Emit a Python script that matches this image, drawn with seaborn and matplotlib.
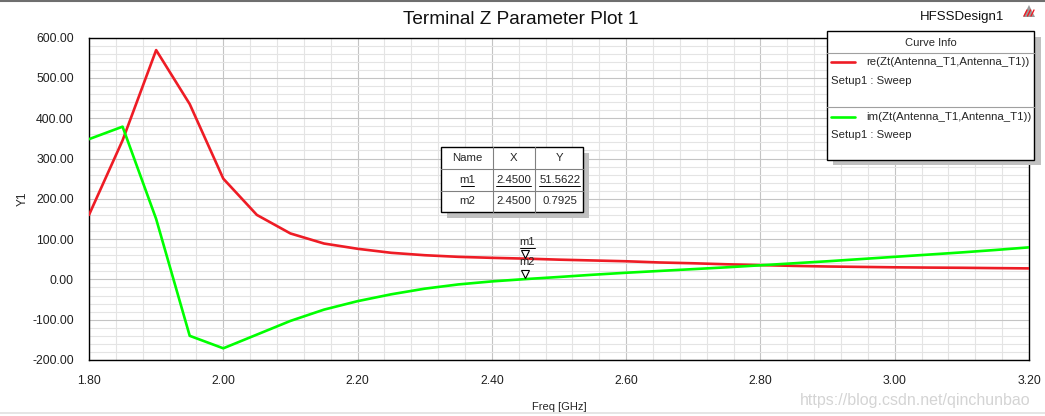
import numpy as np
import pandas as pd
import matplotlib
matplotlib.use('Agg')
import matplotlib.pyplot as plt
import matplotlib.transforms as mtransforms
from matplotlib.patches import Rectangle, Polygon
from matplotlib.ticker import MultipleLocator, FormatStrFormatter
import seaborn as sns

# 数据
freq = [1.80, 1.85, 1.90, 1.95, 2.00, 2.05, 2.10, 2.15, 2.20, 2.25,
        2.30, 2.35, 2.40, 2.45, 2.50, 2.55, 2.60, 2.65, 2.70, 2.75,
        2.80, 2.85, 2.90, 2.95, 3.00, 3.05, 3.10, 3.15, 3.20]
re_zt = [160, 345, 569, 435, 250, 160, 114, 89, 76, 66,
         60, 56, 53.5, 51.5622, 49, 47, 45, 42, 40, 37.5,
         35.5, 33.5, 32, 31, 30, 29.3, 28.8, 28, 27.3]
im_zt = [348, 379, 150, -140, -171, -137, -103, -75, -54, -37,
         -23, -12.5, -5, 0.7925, 6, 11.5, 16.5, 21, 25.5, 30,
         35, 40, 45, 50.5, 56, 61.5, 67, 73, 79.5]
curve_names = ['re(Zt(Antenna_T1,Antenna_T1))', 'im(Zt(Antenna_T1,Antenna_T1))']
curve_colors = ['#ee1c25', '#00ff00']
marker_names = ['m1', 'm2']
marker_x = [2.45, 2.45]
marker_y = [51.5622, 0.7925]
marker_y_text = ['51.5622', '0.7925']

df = pd.DataFrame({
    'freq': freq * 2,
    'val': re_zt + im_zt,
    'curve': [curve_names[0]] * len(freq) + [curve_names[1]] * len(freq),
})

sns.set_style('white')
plt.rcParams['font.family'] = ['Liberation Sans', 'DejaVu Sans']

W, H = 1045, 416
fig = plt.figure(figsize=(W / 100, H / 100), dpi=100)
ax = fig.add_axes([89 / W, 1 - 360 / H, 940 / W, 322.4 / H])

sns.lineplot(data=df, x='freq', y='val', hue='curve', palette=curve_colors,
             linewidth=1.9, legend=False, ax=ax, zorder=3)

ax.set_xlim(1.80, 3.20)
ax.set_ylim(-200, 600)
ax.xaxis.set_major_locator(MultipleLocator(0.2))
ax.xaxis.set_minor_locator(MultipleLocator(0.04))
ax.yaxis.set_major_locator(MultipleLocator(100))
ax.yaxis.set_minor_locator(MultipleLocator(20))
ax.xaxis.set_major_formatter(FormatStrFormatter('%.2f'))
ax.yaxis.set_major_formatter(FormatStrFormatter('%.2f'))
ax.grid(which='major', color='#c4c4c4', linewidth=0.8, zorder=1)
ax.grid(which='minor', color='#e4e4e4', linewidth=0.8, zorder=0)
ax.set_axisbelow(True)
ax.tick_params(which='major', direction='out', length=6.5, width=0.8,
               labelsize=8.8, pad=4.5, colors='black', labelcolor='#202020')
ax.tick_params(which='minor', direction='out', length=4, width=0.8)
ax.tick_params(axis='x', which='major', length=5.5, pad=5)
ax.tick_params(axis='x', which='minor', length=3.8)
for s in ax.spines.values():
    s.set_color('black')
    s.set_linewidth(1.0)
ax.set_xlabel('Freq [GHz]', fontsize=8)
ax.set_ylabel('Y1', fontsize=8.5)
ax.xaxis.set_label_coords(0.5, -0.13)
ax.yaxis.set_label_coords(-0.064, 0.5)

# 标记点
for name, mx, my in zip(marker_names, marker_x, marker_y):
    tri = mtransforms.offset_copy(ax.transData, fig=fig, x=0, y=5, units='dots')
    ax.plot([mx], [my], marker='v', markersize=6.2, markerfacecolor='white',
            markeredgecolor='black', markeredgewidth=0.8, linestyle='none',
            transform=tri, zorder=5)
    lab = mtransforms.offset_copy(ax.transData, fig=fig, x=2, y=17, units='dots')
    ax.text(mx, my, name, transform=lab, ha='center', va='center',
            fontsize=8, zorder=6)
    if name == 'm1':
        ul = mtransforms.offset_copy(ax.transData, fig=fig, x=2, y=11, units='dots')
        ax.plot([mx - 0.011, mx + 0.011], [my, my], color='black', lw=0.7,
                transform=ul, zorder=6)

# 覆盖层（像素坐标）
ov = fig.add_axes([0, 0, 1, 1], zorder=10)
ov.set_xlim(0, W)
ov.set_ylim(H, 0)
ov.axis('off')
ov.patch.set_alpha(0)

ov.plot([0, W], [0.8, 0.8], color='#6e6e6e', lw=1.5)
ov.plot([0, W], [413, 413], color='#e0e0e0', lw=1.2)
fig.text(521 / W, 1 - 19 / H, 'Terminal Z Parameter Plot 1', ha='center',
         va='center', fontsize=13.7, color='#111111')
fig.text(962 / W, 1 - 17 / H, 'HFSSDesign1', ha='center', va='center',
         fontsize=9.5, color='#111111')
ov.add_patch(Polygon([[1023, 17], [1029, 5], [1035, 17]], closed=True,
                     facecolor='#9a9a9a', edgecolor='none'))
for xo in [0, 3.5, 7]:
    ov.plot([1024 + xo, 1027 + xo], [16, 10], color='#ee1c25', lw=1.0)
fig.text(915 / W, 1 - 401 / H, 'https://blog.csdn.net/qinchunbao',
         ha='center', va='center', fontsize=11.5, color='#d4d4d4',
         family=['Liberation Sans Narrow', 'Liberation Sans'])

# Curve Info 图例框
ov.add_patch(Rectangle((833, 37), 208, 128, facecolor='#c0c0c0', edgecolor='none'))
ov.add_patch(Rectangle((827, 31), 207, 129, facecolor='white',
                       edgecolor='black', lw=1.0))
ov.text(931, 43, 'Curve Info', ha='center', va='center', fontsize=8)
ov.plot([827, 1034], [52.5, 52.5], color='#a0a0a0', lw=0.8)
ov.plot([827, 1034], [106.5, 106.5], color='#a0a0a0', lw=0.8)
for i, (nm, col) in enumerate(zip(curve_names, curve_colors)):
    yy = 62.3 + i * 54.5
    ov.plot([831, 855], [yy, yy], color=col, lw=1.9)
    ov.text(866, yy, nm, ha='left', va='center', fontsize=8.2)
    ov.text(831, yy + 18.5, 'Setup1 : Sweep', ha='left', va='center', fontsize=8.2)

# 标记表
tx0, tx1, tx2, tx3 = 441, 493, 534.5, 583
ty0, ty1, ty2, ty3 = 147, 169, 191, 212
ov.add_patch(Rectangle((tx0 + 6, ty0 + 6), tx3 - tx0, ty3 - ty0,
                       facecolor='#c0c0c0', edgecolor='none'))
ov.add_patch(Rectangle((tx0, ty0), tx3 - tx0, ty3 - ty0, facecolor='white',
                       edgecolor='black', lw=1.0))
for yy in [ty1, ty2]:
    ov.plot([tx0, tx3], [yy, yy], color='#808080', lw=0.8)
for xx in [tx1, tx2]:
    ov.plot([xx, xx], [ty0, ty3], color='#808080', lw=0.8)
cx = [(tx0 + tx1) / 2, (tx1 + tx2) / 2, (tx2 + tx3) / 2 + 1]
rows = [['Name', 'X', 'Y']]
for nm, mx, yt in zip(marker_names, marker_x, marker_y_text):
    rows.append([nm, '%.4f' % mx, yt])
ry = [(ty0 + ty1) / 2, (ty1 + ty2) / 2, (ty2 + ty3) / 2]
for r, row in enumerate(rows):
    for c, txt in enumerate(row):
        t = ov.text(cx[c], ry[r], txt, ha='center', va='center', fontsize=8.2)
        if r == 1:
            wpx = len(txt) * 5.9 if c > 0 else 13
            ov.plot([cx[c] - wpx / 2, cx[c] + wpx / 2], [ry[r] + 6, ry[r] + 6],
                    color='black', lw=0.7)

fig.savefig('out.png', dpi=100)
